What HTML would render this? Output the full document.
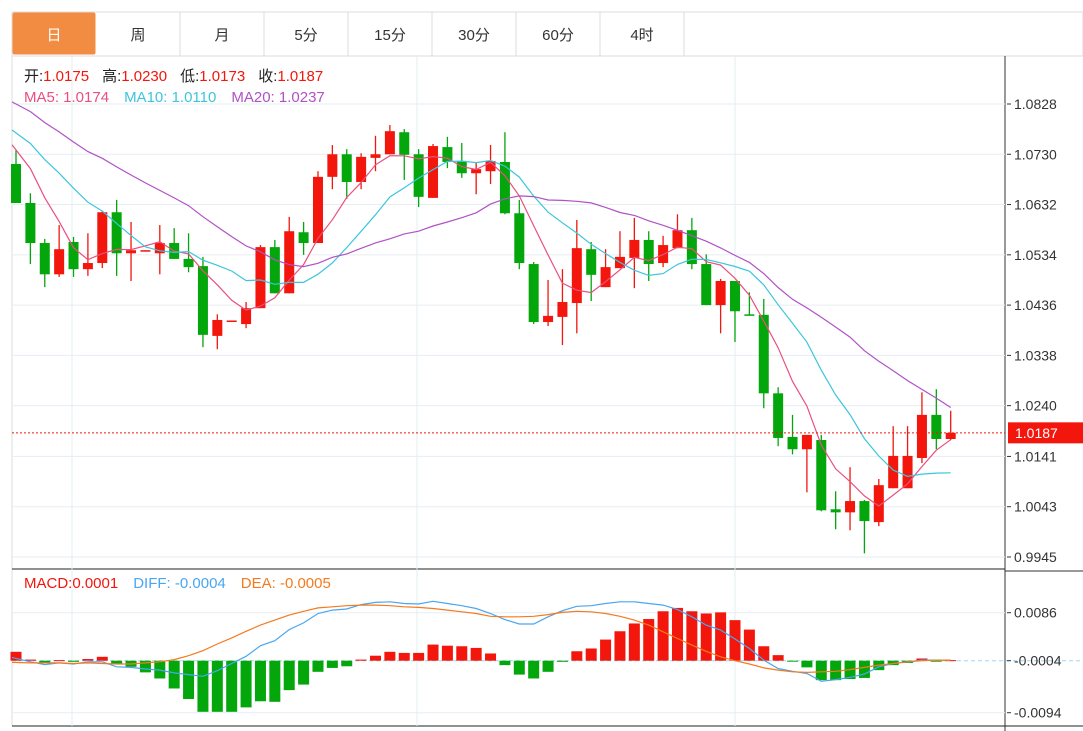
<!DOCTYPE html>
<html><head><meta charset="utf-8">
<style>
html,body{margin:0;padding:0;background:#fff;width:1083px;height:731px;overflow:hidden;font-family:"Liberation Sans","Noto Sans CJK SC",sans-serif;}
svg{position:absolute;left:0;top:0;}
</style></head>
<body>
<svg id="chart" width="1083" height="731" xmlns="http://www.w3.org/2000/svg"></svg>
<script>
// ---- data ----
const tabLabels=["日","周","月","5分","15分","30分","60分","4时"];
const prevCloses=[1.0935,1.0925,1.0910,1.0900,1.0890,1.0880,1.0870,1.0860,1.0850,1.0850,1.0820,1.0812,1.0806,1.0800,1.0792,1.0790,1.0780,1.0775,1.0763];
const opens=[1.0711,1.0635,1.0557,1.0496,1.0559,1.0506,1.0518,1.0617,1.0537,1.0541,1.0537,1.0557,1.0526,1.0512,1.0376,1.0405,1.0399,1.0430,1.0549,1.0459,1.0578,1.0557,1.0686,1.0730,1.0676,1.0723,1.0730,1.0773,1.0730,1.0645,1.0744,1.0717,1.0693,1.0697,1.0715,1.0615,1.0516,1.0403,1.0413,1.0440,1.0545,1.0471,1.0508,1.0528,1.0563,1.0518,1.0547,1.0582,1.0516,1.0436,1.0483,1.0418,1.0417,1.0264,1.0179,1.0155,1.0173,1.0038,1.0032,1.0054,1.0013,1.0079,1.0079,1.0138,1.0222,1.0175];
const highs=[1.0738,1.0654,1.0565,1.0592,1.0569,1.0576,1.0619,1.0641,1.0598,1.0543,1.0592,1.0586,1.0576,1.0530,1.0418,1.0406,1.0442,1.0553,1.0563,1.0608,1.0598,1.0697,1.0748,1.0740,1.0732,1.0766,1.0787,1.0779,1.0740,1.0750,1.0764,1.0752,1.0713,1.0748,1.0773,1.0641,1.0520,1.0485,1.0506,1.0602,1.0559,1.0545,1.0580,1.0606,1.0580,1.0571,1.0613,1.0606,1.0535,1.0487,1.0483,1.0461,1.0448,1.0276,1.0222,1.0183,1.0183,1.0073,1.0120,1.0056,1.0097,1.0200,1.0200,1.0266,1.0272,1.0230];
const lows=[1.0635,1.0516,1.0471,1.0491,1.0491,1.0493,1.0508,1.0493,1.0483,1.0541,1.0496,1.0526,1.0500,1.0354,1.0350,1.0405,1.0391,1.0430,1.0459,1.0459,1.0534,1.0557,1.0662,1.0643,1.0662,1.0697,1.0730,1.0680,1.0627,1.0645,1.0703,1.0684,1.0652,1.0672,1.0613,1.0506,1.0399,1.0395,1.0358,1.0381,1.0444,1.0471,1.0508,1.0469,1.0483,1.0510,1.0547,1.0506,1.0436,1.0381,1.0364,1.0417,1.0235,1.0161,1.0145,1.0071,1.0034,0.9999,0.9997,0.9952,1.0005,1.0079,1.0079,1.0128,1.0155,1.0173];
const closes=[1.0635,1.0557,1.0496,1.0545,1.0506,1.0518,1.0617,1.0537,1.0543,1.0543,1.0557,1.0526,1.0510,1.0378,1.0407,1.0406,1.0430,1.0549,1.0459,1.0580,1.0557,1.0686,1.0730,1.0676,1.0725,1.0730,1.0775,1.0729,1.0647,1.0746,1.0715,1.0693,1.0701,1.0717,1.0615,1.0518,1.0403,1.0415,1.0442,1.0547,1.0495,1.0510,1.0530,1.0563,1.0516,1.0553,1.0582,1.0516,1.0436,1.0483,1.0424,1.0417,1.0264,1.0177,1.0155,1.0183,1.0036,1.0032,1.0054,1.0015,1.0085,1.0142,1.0142,1.0222,1.0175,1.0187];
const priceTicks=[1.0828,1.0730,1.0632,1.0534,1.0436,1.0338,1.0240,1.0141,1.0043,0.9945];
const macdBars=[0.0016,0.0002,-0.0004,0.0001,-0.0002,0.0003,0.0007,-0.0005,-0.0011,-0.0021,-0.0032,-0.0050,-0.0069,-0.0092,-0.0092,-0.0092,-0.0084,-0.0073,-0.0074,-0.0053,-0.0043,-0.0020,-0.0013,-0.0010,0.0002,0.0009,0.0016,0.0014,0.0014,0.0029,0.0027,0.0026,0.0023,0.0013,-0.0008,-0.0025,-0.0032,-0.0020,-0.0002,0.0017,0.0022,0.0038,0.0053,0.0067,0.0075,0.0089,0.0095,0.0089,0.0085,0.0087,0.0073,0.0056,0.0026,0.0010,-0.0001,-0.0012,-0.0035,-0.0035,-0.0033,-0.0031,-0.0017,-0.0008,-0.0004,0.0004,-0.0001,0.0001];
const diffLine=[0.0006,-0.0002,-0.0007,-0.0004,-0.0006,-0.0002,-0.0002,-0.0011,-0.0012,-0.0015,-0.0017,-0.0022,-0.0025,-0.0028,-0.0018,-0.0005,0.0008,0.0027,0.0036,0.0056,0.0068,0.0085,0.0091,0.0093,0.0101,0.0105,0.0106,0.0103,0.0102,0.0107,0.0103,0.0099,0.0094,0.0085,0.0074,0.0066,0.0066,0.0079,0.0090,0.0098,0.0099,0.0103,0.0106,0.0106,0.0103,0.0100,0.0092,0.0079,0.0064,0.0055,0.0039,0.0022,0.0001,-0.0014,-0.0019,-0.0023,-0.0037,-0.0034,-0.0030,-0.0024,-0.0011,-0.0005,-0.0002,0.0001,0.0001,0.0001];
const deaLine=[-0.0003,-0.0004,-0.0004,-0.0004,-0.0005,-0.0004,-0.0005,-0.0006,-0.0006,-0.0004,-0.0002,0.0002,0.0009,0.0018,0.0030,0.0041,0.0053,0.0064,0.0073,0.0082,0.0089,0.0095,0.0097,0.0099,0.0100,0.0100,0.0099,0.0097,0.0096,0.0094,0.0091,0.0088,0.0085,0.0080,0.0079,0.0079,0.0080,0.0083,0.0087,0.0089,0.0088,0.0085,0.0080,0.0073,0.0064,0.0052,0.0040,0.0028,0.0017,0.0007,0.0000,-0.0006,-0.0013,-0.0017,-0.0020,-0.0021,-0.0020,-0.0019,-0.0016,-0.0012,-0.0008,-0.0005,-0.0002,0.0000,0.0001,0.0001];
const macdTickVals=[0.009,0,-0.009];
const macdTickLabels=["0.0086","-0.0004","-0.0094"];

// ---- scales ----
const RED="#f2160c",GREEN="#03a60b";
const xAt=i=>16+i*14.38;
const py=p=>104+(1.0828-p)*5130;
const my=v=>660.7-v*5556;
const NS="http://www.w3.org/2000/svg";
const svg=document.getElementById('chart');
function el(tag,attrs,parent){const e=document.createElementNS(NS,tag);for(const k in attrs)e.setAttribute(k,attrs[k]);(parent||svg).appendChild(e);return e;}

// tabs
const tabs=el('g',{});


el('rect',{x:12,y:12,width:1071,height:44,fill:'#fff',stroke:'#dcdcdc'},tabs);
tabLabels.forEach((t,i)=>{
  const g=el('g',{},tabs);
  
  
  if(i===0) el('rect',{x:12.5,y:12.5,width:83,height:42,rx:2,fill:'#f28c42'},g);
  else el('line',{x1:12+84*(i+1),y1:12,x2:12+84*(i+1),y2:56,stroke:'#dcdcdc'},g);
  const tx=el('text',{x:54+84*i,y:40,'text-anchor':'middle','font-size':15,fill:i===0?'#fff':'#333'},g);
  tx.textContent=t;
});

// frame
el('line',{x1:12,y1:56,x2:12,y2:726,stroke:'#dcdcdc'});
el('line',{x1:1005,y1:56,x2:1005,y2:731,stroke:'#333'});
el('line',{x1:12,y1:569,x2:1005,y2:569,stroke:'#222'});
el('line',{x1:1005,y1:571,x2:1083,y2:571,stroke:'#333'});
el('line',{x1:12,y1:726,x2:1083,y2:726,stroke:'#222'});
[72,417,735].forEach(x=>el('line',{x1:x,y1:56,x2:x,y2:726,stroke:'#e3ecf3'}));

// price grid + ticks
const yAxis=el('g',{});


priceTicks.forEach(p=>{
  const y=py(p);
  el('line',{x1:12,y1:y,x2:1005,y2:y,stroke:'#e6edf3'},yAxis);
  el('line',{x1:1007,y1:y,x2:1011,y2:y,stroke:'#333'},yAxis);
  const t=el('text',{x:1014,y:y+5,'font-size':14,fill:'#333'},yAxis);t.textContent=p.toFixed(4);
});
// macd grid
const mAxis=el('g',{});


macdTickVals.forEach((v,i)=>{
  const y=my(v)+(i===1?0:2);
  if(i!==1) el('line',{x1:12,y1:y,x2:1005,y2:y,stroke:'#e6edf3'},mAxis);
  else el('line',{x1:12,y1:y,x2:1083,y2:y,stroke:'#9fd7f0','stroke-dasharray':'4,3'},mAxis);
  el('line',{x1:1007,y1:y,x2:1011,y2:y,stroke:'#333'},mAxis);
  const t=el('text',{x:1014,y:y+5,'font-size':14,fill:'#333'},mAxis);t.textContent=macdTickLabels[i];
});

// candles
const cg=el('g',{});


closes.forEach((c,i)=>{
  const o=opens[i],up=c>=o,col=up?RED:GREEN,x=xAt(i);
  const g=el('g',{},cg);
  
  
  el('line',{x1:x,y1:py(highs[i]),x2:x,y2:py(lows[i]),stroke:col,'stroke-width':1.3},g);
  const top=py(Math.max(o,c)),bot=py(Math.min(o,c));
  el('rect',{x:x-5,y:top,width:10,height:Math.max(1.5,bot-top),fill:col},g);
});

// moving averages
const all=prevCloses.concat(closes);
function ma(n){return closes.map((_,i)=>{const j=i+prevCloses.length;let s=0;for(let k=j-n+1;k<=j;k++)s+=all[k];return s/n;});}
[[5,'#ea4f7f','ma5-line'],[10,'#3cc6dc','ma10-line'],[20,'#b052c6','ma20-line']].forEach(([n,col,name])=>{
  const v=ma(n);
  const pts=v.map((p,i)=>(i===0?12:xAt(i)).toFixed(1)+','+py(p).toFixed(1)).join(' ');
  const l=el('polyline',{points:pts,fill:'none',stroke:col,'stroke-width':1.2});
  
  
});

// current price line & label
const last=closes[closes.length-1];
const cp=el('g',{});


el('line',{x1:12,y1:py(last),x2:1005,y2:py(last),stroke:'#f2160c','stroke-dasharray':'2,2'},cp);
el('rect',{x:1008,y:py(last)-10.5,width:75,height:21,fill:'#f2160c'},cp);
const cpt=el('text',{x:1015,y:py(last)+5,'font-size':14,fill:'#fff'},cp);cpt.textContent=last.toFixed(4);

// macd bars
const mb=el('g',{});


macdBars.forEach((v,i)=>{
  const x=xAt(i),y0=my(0),y1=my(v);
  const r=el('rect',{x:x-5.5,y:Math.min(y0,y1),width:11,height:Math.max(1,Math.abs(y1-y0)),fill:v>=0?RED:GREEN},mb);
  
  
});
[[diffLine,'#4aa6f0','diff-line'],[deaLine,'#f57a1e','dea-line']].forEach(([arr,col,name])=>{
  const pts=arr.map((v,i)=>(i===0?12:xAt(i)).toFixed(1)+','+my(v).toFixed(1)).join(' ');
  const l=el('polyline',{points:pts,fill:'none',stroke:col,'stroke-width':1.2});
  
  
});

// legends
function legend(x,y,parts,name){
  const t=el('text',{x:x,y:y,'font-size':15});
  
  
  parts.forEach(([s,col,dx])=>{const sp=el('tspan',{fill:col},t);if(dx)sp.setAttribute('dx',dx);sp.textContent=s;});
}
legend(24,81,[["开:","#222"],["1.0175",RED],["高:","#222",13],["1.0230",RED],["低:","#222",13],["1.0173",RED],["收:","#222",13],["1.0187",RED]],'ohlc-legend');
legend(24,102,[["MA5: 1.0174","#ea4f7f"],["MA10: 1.0110","#3cc6dc",15],["MA20: 1.0237","#b052c6",15]],'ma-legend');
legend(24,588,[["MACD:0.0001",RED],["DIFF: -0.0004","#4aa6f0",15],["DEA: -0.0005","#f57a1e",15]],'macd-legend');
</script>
</body></html>
